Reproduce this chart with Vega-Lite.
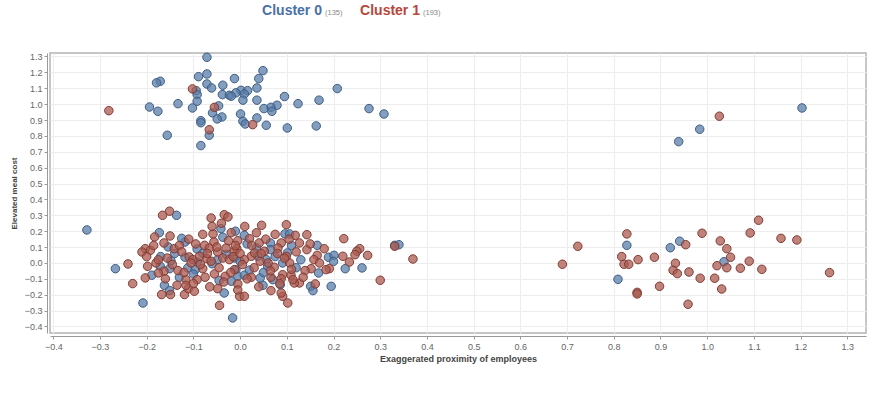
{
  "$schema": "https://vega.github.io/schema/vega-lite/v6.json",
  "padding": {"left": 9, "top": 0, "right": 0, "bottom": 0},
  "background": "white",
  "config": {"font": "Liberation Sans", "concat": {"spacing": 28}},
  "data": {"values": [
    {"proximity":-0.071,"cost":1.295,"cluster":"Cluster 0"},
    {"proximity":0.049,"cost":1.211,"cluster":"Cluster 0"},
    {"proximity":-0.071,"cost":1.19,"cluster":"Cluster 0"},
    {"proximity":-0.089,"cost":1.173,"cluster":"Cluster 0"},
    {"proximity":-0.012,"cost":1.161,"cluster":"Cluster 0"},
    {"proximity":0.04,"cost":1.161,"cluster":"Cluster 0"},
    {"proximity":-0.171,"cost":1.144,"cluster":"Cluster 0"},
    {"proximity":-0.179,"cost":1.134,"cluster":"Cluster 0"},
    {"proximity":-0.071,"cost":1.127,"cluster":"Cluster 0"},
    {"proximity":-0.061,"cost":1.102,"cluster":"Cluster 0"},
    {"proximity":-0.037,"cost":1.119,"cluster":"Cluster 0"},
    {"proximity":0.036,"cost":1.102,"cluster":"Cluster 0"},
    {"proximity":0.208,"cost":1.098,"cluster":"Cluster 0"},
    {"proximity":-0.094,"cost":1.085,"cluster":"Cluster 0"},
    {"proximity":0.002,"cost":1.087,"cluster":"Cluster 0"},
    {"proximity":0.016,"cost":1.085,"cluster":"Cluster 0"},
    {"proximity":-0.038,"cost":1.06,"cluster":"Cluster 0"},
    {"proximity":-0.023,"cost":1.056,"cluster":"Cluster 0"},
    {"proximity":-0.009,"cost":1.071,"cluster":"Cluster 0"},
    {"proximity":0.009,"cost":1.064,"cluster":"Cluster 0"},
    {"proximity":-0.019,"cost":1.05,"cluster":"Cluster 0"},
    {"proximity":-0.092,"cost":1.06,"cluster":"Cluster 0"},
    {"proximity":0.095,"cost":1.048,"cluster":"Cluster 0"},
    {"proximity":0.169,"cost":1.025,"cluster":"Cluster 0"},
    {"proximity":0.036,"cost":1.025,"cluster":"Cluster 0"},
    {"proximity":0.006,"cost":1.025,"cluster":"Cluster 0"},
    {"proximity":-0.092,"cost":1.018,"cluster":"Cluster 0"},
    {"proximity":0.124,"cost":1.003,"cluster":"Cluster 0"},
    {"proximity":-0.133,"cost":1.003,"cluster":"Cluster 0"},
    {"proximity":-0.194,"cost":0.982,"cluster":"Cluster 0"},
    {"proximity":-0.102,"cost":0.976,"cluster":"Cluster 0"},
    {"proximity":-0.046,"cost":0.989,"cluster":"Cluster 0"},
    {"proximity":0.079,"cost":0.993,"cluster":"Cluster 0"},
    {"proximity":0.066,"cost":0.98,"cluster":"Cluster 0"},
    {"proximity":0.051,"cost":0.972,"cluster":"Cluster 0"},
    {"proximity":0.068,"cost":0.955,"cluster":"Cluster 0"},
    {"proximity":-0.176,"cost":0.955,"cluster":"Cluster 0"},
    {"proximity":0.276,"cost":0.972,"cluster":"Cluster 0"},
    {"proximity":0.308,"cost":0.938,"cluster":"Cluster 0"},
    {"proximity":-0.059,"cost":0.945,"cluster":"Cluster 0"},
    {"proximity":0.001,"cost":0.938,"cluster":"Cluster 0"},
    {"proximity":-0.039,"cost":0.919,"cluster":"Cluster 0"},
    {"proximity":-0.049,"cost":0.907,"cluster":"Cluster 0"},
    {"proximity":0.036,"cost":0.913,"cluster":"Cluster 0"},
    {"proximity":0.006,"cost":0.892,"cluster":"Cluster 0"},
    {"proximity":0.056,"cost":0.867,"cluster":"Cluster 0"},
    {"proximity":0.101,"cost":0.85,"cluster":"Cluster 0"},
    {"proximity":0.163,"cost":0.863,"cluster":"Cluster 0"},
    {"proximity":0.011,"cost":0.875,"cluster":"Cluster 0"},
    {"proximity":-0.084,"cost":0.896,"cluster":"Cluster 0"},
    {"proximity":-0.084,"cost":0.883,"cluster":"Cluster 0"},
    {"proximity":-0.066,"cost":0.804,"cluster":"Cluster 0"},
    {"proximity":-0.156,"cost":0.804,"cluster":"Cluster 0"},
    {"proximity":-0.084,"cost":0.739,"cluster":"Cluster 0"},
    {"proximity":1.203,"cost":0.976,"cluster":"Cluster 0"},
    {"proximity":0.984,"cost":0.842,"cluster":"Cluster 0"},
    {"proximity":0.939,"cost":0.764,"cluster":"Cluster 0"},
    {"proximity":0.941,"cost":0.137,"cluster":"Cluster 0"},
    {"proximity":0.828,"cost":0.111,"cluster":"Cluster 0"},
    {"proximity":0.921,"cost":0.096,"cluster":"Cluster 0"},
    {"proximity":1.036,"cost":0.008,"cluster":"Cluster 0"},
    {"proximity":0.809,"cost":-0.103,"cluster":"Cluster 0"},
    {"proximity":-0.328,"cost":0.208,"cluster":"Cluster 0"},
    {"proximity":-0.136,"cost":0.3,"cluster":"Cluster 0"},
    {"proximity":-0.173,"cost":0.191,"cluster":"Cluster 0"},
    {"proximity":-0.041,"cost":0.216,"cluster":"Cluster 0"},
    {"proximity":-0.037,"cost":0.162,"cluster":"Cluster 0"},
    {"proximity":-0.118,"cost":0.132,"cluster":"Cluster 0"},
    {"proximity":-0.154,"cost":0.101,"cluster":"Cluster 0"},
    {"proximity":-0.092,"cost":0.088,"cluster":"Cluster 0"},
    {"proximity":-0.118,"cost":0.036,"cluster":"Cluster 0"},
    {"proximity":-0.092,"cost":0.006,"cluster":"Cluster 0"},
    {"proximity":-0.048,"cost":0.021,"cluster":"Cluster 0"},
    {"proximity":-0.012,"cost":0.031,"cluster":"Cluster 0"},
    {"proximity":-0.267,"cost":-0.036,"cluster":"Cluster 0"},
    {"proximity":-0.171,"cost":-0.021,"cluster":"Cluster 0"},
    {"proximity":-0.148,"cost":0.014,"cluster":"Cluster 0"},
    {"proximity":-0.151,"cost":-0.036,"cluster":"Cluster 0"},
    {"proximity":-0.189,"cost":-0.077,"cluster":"Cluster 0"},
    {"proximity":-0.112,"cost":-0.031,"cluster":"Cluster 0"},
    {"proximity":-0.096,"cost":-0.042,"cluster":"Cluster 0"},
    {"proximity":-0.009,"cost":-0.042,"cluster":"Cluster 0"},
    {"proximity":-0.162,"cost":-0.141,"cluster":"Cluster 0"},
    {"proximity":-0.151,"cost":-0.174,"cluster":"Cluster 0"},
    {"proximity":-0.034,"cost":-0.189,"cluster":"Cluster 0"},
    {"proximity":-0.208,"cost":-0.252,"cluster":"Cluster 0"},
    {"proximity":-0.016,"cost":-0.346,"cluster":"Cluster 0"},
    {"proximity":0.096,"cost":0.183,"cluster":"Cluster 0"},
    {"proximity":0.106,"cost":0.183,"cluster":"Cluster 0"},
    {"proximity":0.009,"cost":0.174,"cluster":"Cluster 0"},
    {"proximity":0.065,"cost":0.126,"cluster":"Cluster 0"},
    {"proximity":0.165,"cost":0.111,"cluster":"Cluster 0"},
    {"proximity":0.331,"cost":0.111,"cluster":"Cluster 0"},
    {"proximity":0.34,"cost":0.115,"cluster":"Cluster 0"},
    {"proximity":0.189,"cost":0.036,"cluster":"Cluster 0"},
    {"proximity":0.201,"cost":0.048,"cluster":"Cluster 0"},
    {"proximity":0.225,"cost":-0.036,"cluster":"Cluster 0"},
    {"proximity":0.261,"cost":-0.031,"cluster":"Cluster 0"},
    {"proximity":0.168,"cost":-0.063,"cluster":"Cluster 0"},
    {"proximity":0.195,"cost":-0.147,"cluster":"Cluster 0"},
    {"proximity":0.151,"cost":-0.147,"cluster":"Cluster 0"},
    {"proximity":0.156,"cost":-0.174,"cluster":"Cluster 0"},
    {"proximity":0.07,"cost":-0.105,"cluster":"Cluster 0"},
    {"proximity":0.049,"cost":-0.141,"cluster":"Cluster 0"},
    {"proximity":0.038,"cost":0.042,"cluster":"Cluster 0"},
    {"proximity":0.056,"cost":0.021,"cluster":"Cluster 0"},
    {"proximity":0.059,"cost":-0.021,"cluster":"Cluster 0"},
    {"proximity":0.091,"cost":0.0,"cluster":"Cluster 0"},
    {"proximity":0.101,"cost":0.063,"cluster":"Cluster 0"},
    {"proximity":0.065,"cost":0.084,"cluster":"Cluster 0"},
    {"proximity":-0.005,"cost":-0.084,"cluster":"Cluster 0"},
    {"proximity":0.009,"cost":-0.077,"cluster":"Cluster 0"},
    {"proximity":0.043,"cost":-0.094,"cluster":"Cluster 0"},
    {"proximity":0.086,"cost":-0.137,"cluster":"Cluster 0"},
    {"proximity":-0.019,"cost":-0.115,"cluster":"Cluster 0"},
    {"proximity":-0.125,"cost":0.155,"cluster":"Cluster 0"},
    {"proximity":-0.08,"cost":0.06,"cluster":"Cluster 0"},
    {"proximity":-0.06,"cost":-0.005,"cluster":"Cluster 0"},
    {"proximity":-0.03,"cost":0.055,"cluster":"Cluster 0"},
    {"proximity":0.0,"cost":0.01,"cluster":"Cluster 0"},
    {"proximity":0.02,"cost":-0.045,"cluster":"Cluster 0"},
    {"proximity":0.035,"cost":0.095,"cluster":"Cluster 0"},
    {"proximity":0.075,"cost":0.04,"cluster":"Cluster 0"},
    {"proximity":0.11,"cost":0.11,"cluster":"Cluster 0"},
    {"proximity":0.13,"cost":0.02,"cluster":"Cluster 0"},
    {"proximity":-0.14,"cost":0.06,"cluster":"Cluster 0"},
    {"proximity":-0.1,"cost":-0.07,"cluster":"Cluster 0"},
    {"proximity":-0.045,"cost":-0.11,"cluster":"Cluster 0"},
    {"proximity":0.015,"cost":0.12,"cluster":"Cluster 0"},
    {"proximity":0.05,"cost":-0.06,"cluster":"Cluster 0"},
    {"proximity":0.12,"cost":-0.03,"cluster":"Cluster 0"},
    {"proximity":-0.17,"cost":0.04,"cluster":"Cluster 0"},
    {"proximity":0.2,"cost":0.01,"cluster":"Cluster 0"},
    {"proximity":-0.01,"cost":0.2,"cluster":"Cluster 0"},
    {"proximity":-0.13,"cost":-0.09,"cluster":"Cluster 0"},
    {"proximity":-0.102,"cost":1.096,"cluster":"Cluster 1"},
    {"proximity":-0.055,"cost":0.98,"cluster":"Cluster 1"},
    {"proximity":-0.281,"cost":0.959,"cluster":"Cluster 1"},
    {"proximity":0.027,"cost":0.871,"cluster":"Cluster 1"},
    {"proximity":-0.066,"cost":0.839,"cluster":"Cluster 1"},
    {"proximity":1.026,"cost":0.924,"cluster":"Cluster 1"},
    {"proximity":1.11,"cost":0.269,"cluster":"Cluster 1"},
    {"proximity":0.828,"cost":0.183,"cluster":"Cluster 1"},
    {"proximity":0.989,"cost":0.187,"cluster":"Cluster 1"},
    {"proximity":1.092,"cost":0.189,"cluster":"Cluster 1"},
    {"proximity":1.158,"cost":0.155,"cluster":"Cluster 1"},
    {"proximity":1.192,"cost":0.145,"cluster":"Cluster 1"},
    {"proximity":0.954,"cost":0.115,"cluster":"Cluster 1"},
    {"proximity":1.028,"cost":0.139,"cluster":"Cluster 1"},
    {"proximity":0.723,"cost":0.105,"cluster":"Cluster 1"},
    {"proximity":1.042,"cost":0.09,"cluster":"Cluster 1"},
    {"proximity":0.817,"cost":0.04,"cluster":"Cluster 1"},
    {"proximity":1.05,"cost":0.036,"cluster":"Cluster 1"},
    {"proximity":0.852,"cost":0.021,"cluster":"Cluster 1"},
    {"proximity":0.887,"cost":0.036,"cluster":"Cluster 1"},
    {"proximity":1.09,"cost":0.011,"cluster":"Cluster 1"},
    {"proximity":0.69,"cost":-0.008,"cluster":"Cluster 1"},
    {"proximity":0.822,"cost":-0.008,"cluster":"Cluster 1"},
    {"proximity":0.832,"cost":-0.008,"cluster":"Cluster 1"},
    {"proximity":0.932,"cost":-0.002,"cluster":"Cluster 1"},
    {"proximity":1.021,"cost":-0.017,"cluster":"Cluster 1"},
    {"proximity":1.042,"cost":-0.03,"cluster":"Cluster 1"},
    {"proximity":1.071,"cost":-0.033,"cluster":"Cluster 1"},
    {"proximity":1.117,"cost":-0.04,"cluster":"Cluster 1"},
    {"proximity":0.927,"cost":-0.046,"cluster":"Cluster 1"},
    {"proximity":0.936,"cost":-0.067,"cluster":"Cluster 1"},
    {"proximity":0.961,"cost":-0.057,"cluster":"Cluster 1"},
    {"proximity":1.262,"cost":-0.061,"cluster":"Cluster 1"},
    {"proximity":0.985,"cost":-0.096,"cluster":"Cluster 1"},
    {"proximity":1.016,"cost":-0.096,"cluster":"Cluster 1"},
    {"proximity":0.898,"cost":-0.147,"cluster":"Cluster 1"},
    {"proximity":1.031,"cost":-0.164,"cluster":"Cluster 1"},
    {"proximity":0.85,"cost":-0.185,"cluster":"Cluster 1"},
    {"proximity":0.85,"cost":-0.195,"cluster":"Cluster 1"},
    {"proximity":0.959,"cost":-0.26,"cluster":"Cluster 1"},
    {"proximity":-0.166,"cost":0.3,"cluster":"Cluster 1"},
    {"proximity":-0.151,"cost":0.326,"cluster":"Cluster 1"},
    {"proximity":-0.062,"cost":0.283,"cluster":"Cluster 1"},
    {"proximity":-0.034,"cost":0.304,"cluster":"Cluster 1"},
    {"proximity":-0.026,"cost":0.29,"cluster":"Cluster 1"},
    {"proximity":-0.183,"cost":0.164,"cluster":"Cluster 1"},
    {"proximity":-0.019,"cost":0.191,"cluster":"Cluster 1"},
    {"proximity":-0.058,"cost":0.183,"cluster":"Cluster 1"},
    {"proximity":-0.163,"cost":0.126,"cluster":"Cluster 1"},
    {"proximity":-0.141,"cost":0.09,"cluster":"Cluster 1"},
    {"proximity":-0.203,"cost":0.09,"cluster":"Cluster 1"},
    {"proximity":-0.192,"cost":0.08,"cluster":"Cluster 1"},
    {"proximity":-0.21,"cost":0.069,"cluster":"Cluster 1"},
    {"proximity":-0.076,"cost":0.111,"cluster":"Cluster 1"},
    {"proximity":-0.066,"cost":0.094,"cluster":"Cluster 1"},
    {"proximity":-0.056,"cost":0.132,"cluster":"Cluster 1"},
    {"proximity":-0.048,"cost":0.069,"cluster":"Cluster 1"},
    {"proximity":-0.03,"cost":0.094,"cluster":"Cluster 1"},
    {"proximity":-0.005,"cost":0.14,"cluster":"Cluster 1"},
    {"proximity":-0.007,"cost":0.09,"cluster":"Cluster 1"},
    {"proximity":-0.109,"cost":0.038,"cluster":"Cluster 1"},
    {"proximity":-0.101,"cost":0.021,"cluster":"Cluster 1"},
    {"proximity":-0.087,"cost":0.042,"cluster":"Cluster 1"},
    {"proximity":-0.071,"cost":0.027,"cluster":"Cluster 1"},
    {"proximity":-0.062,"cost":0.011,"cluster":"Cluster 1"},
    {"proximity":-0.037,"cost":0.031,"cluster":"Cluster 1"},
    {"proximity":-0.023,"cost":0.021,"cluster":"Cluster 1"},
    {"proximity":-0.24,"cost":-0.006,"cluster":"Cluster 1"},
    {"proximity":-0.198,"cost":-0.021,"cluster":"Cluster 1"},
    {"proximity":-0.18,"cost":0.0,"cluster":"Cluster 1"},
    {"proximity":-0.156,"cost":0.031,"cluster":"Cluster 1"},
    {"proximity":-0.163,"cost":-0.052,"cluster":"Cluster 1"},
    {"proximity":-0.175,"cost":-0.063,"cluster":"Cluster 1"},
    {"proximity":-0.203,"cost":-0.094,"cluster":"Cluster 1"},
    {"proximity":-0.133,"cost":-0.048,"cluster":"Cluster 1"},
    {"proximity":-0.08,"cost":-0.036,"cluster":"Cluster 1"},
    {"proximity":-0.055,"cost":-0.069,"cluster":"Cluster 1"},
    {"proximity":-0.032,"cost":-0.084,"cluster":"Cluster 1"},
    {"proximity":-0.116,"cost":-0.105,"cluster":"Cluster 1"},
    {"proximity":-0.092,"cost":-0.105,"cluster":"Cluster 1"},
    {"proximity":-0.23,"cost":-0.13,"cluster":"Cluster 1"},
    {"proximity":-0.168,"cost":-0.199,"cluster":"Cluster 1"},
    {"proximity":-0.149,"cost":-0.199,"cluster":"Cluster 1"},
    {"proximity":-0.119,"cost":-0.199,"cluster":"Cluster 1"},
    {"proximity":-0.111,"cost":-0.162,"cluster":"Cluster 1"},
    {"proximity":-0.098,"cost":-0.178,"cluster":"Cluster 1"},
    {"proximity":-0.116,"cost":-0.141,"cluster":"Cluster 1"},
    {"proximity":-0.048,"cost":-0.162,"cluster":"Cluster 1"},
    {"proximity":-0.044,"cost":-0.267,"cluster":"Cluster 1"},
    {"proximity":0.046,"cost":0.237,"cluster":"Cluster 1"},
    {"proximity":0.099,"cost":0.241,"cluster":"Cluster 1"},
    {"proximity":0.118,"cost":0.174,"cluster":"Cluster 1"},
    {"proximity":0.143,"cost":0.178,"cluster":"Cluster 1"},
    {"proximity":0.02,"cost":0.153,"cluster":"Cluster 1"},
    {"proximity":0.041,"cost":0.126,"cluster":"Cluster 1"},
    {"proximity":0.088,"cost":0.126,"cluster":"Cluster 1"},
    {"proximity":0.127,"cost":0.126,"cluster":"Cluster 1"},
    {"proximity":0.222,"cost":0.153,"cluster":"Cluster 1"},
    {"proximity":0.331,"cost":0.105,"cluster":"Cluster 1"},
    {"proximity":0.37,"cost":0.025,"cluster":"Cluster 1"},
    {"proximity":0.256,"cost":0.09,"cluster":"Cluster 1"},
    {"proximity":0.25,"cost":0.074,"cluster":"Cluster 1"},
    {"proximity":0.273,"cost":0.048,"cluster":"Cluster 1"},
    {"proximity":0.246,"cost":0.052,"cluster":"Cluster 1"},
    {"proximity":0.22,"cost":0.042,"cluster":"Cluster 1"},
    {"proximity":0.143,"cost":0.084,"cluster":"Cluster 1"},
    {"proximity":0.165,"cost":0.048,"cluster":"Cluster 1"},
    {"proximity":0.158,"cost":0.021,"cluster":"Cluster 1"},
    {"proximity":0.234,"cost":0.006,"cluster":"Cluster 1"},
    {"proximity":0.191,"cost":-0.036,"cluster":"Cluster 1"},
    {"proximity":0.184,"cost":-0.042,"cluster":"Cluster 1"},
    {"proximity":0.152,"cost":-0.036,"cluster":"Cluster 1"},
    {"proximity":0.139,"cost":-0.048,"cluster":"Cluster 1"},
    {"proximity":0.3,"cost":-0.109,"cluster":"Cluster 1"},
    {"proximity":0.161,"cost":-0.132,"cluster":"Cluster 1"},
    {"proximity":0.127,"cost":-0.126,"cluster":"Cluster 1"},
    {"proximity":0.116,"cost":-0.126,"cluster":"Cluster 1"},
    {"proximity":0.109,"cost":-0.077,"cluster":"Cluster 1"},
    {"proximity":0.091,"cost":-0.074,"cluster":"Cluster 1"},
    {"proximity":0.066,"cost":-0.174,"cluster":"Cluster 1"},
    {"proximity":0.091,"cost":-0.21,"cluster":"Cluster 1"},
    {"proximity":0.102,"cost":-0.252,"cluster":"Cluster 1"},
    {"proximity":-0.001,"cost":-0.21,"cluster":"Cluster 1"},
    {"proximity":0.009,"cost":-0.21,"cluster":"Cluster 1"},
    {"proximity":0.024,"cost":0.042,"cluster":"Cluster 1"},
    {"proximity":0.009,"cost":0.021,"cluster":"Cluster 1"},
    {"proximity":0.043,"cost":0.011,"cluster":"Cluster 1"},
    {"proximity":0.073,"cost":-0.027,"cluster":"Cluster 1"},
    {"proximity":0.106,"cost":0.0,"cluster":"Cluster 1"},
    {"proximity":0.099,"cost":0.042,"cluster":"Cluster 1"},
    {"proximity":0.052,"cost":0.074,"cluster":"Cluster 1"},
    {"proximity":0.081,"cost":0.094,"cluster":"Cluster 1"},
    {"proximity":0.031,"cost":0.063,"cluster":"Cluster 1"},
    {"proximity":-0.012,"cost":0.074,"cluster":"Cluster 1"},
    {"proximity":-0.012,"cost":-0.042,"cluster":"Cluster 1"},
    {"proximity":0.024,"cost":-0.09,"cluster":"Cluster 1"},
    {"proximity":0.088,"cost":-0.099,"cluster":"Cluster 1"},
    {"proximity":0.113,"cost":-0.105,"cluster":"Cluster 1"},
    {"proximity":-0.005,"cost":-0.132,"cluster":"Cluster 1"},
    {"proximity":0.066,"cost":-0.09,"cluster":"Cluster 1"},
    {"proximity":0.088,"cost":-0.189,"cluster":"Cluster 1"},
    {"proximity":-0.2,"cost":0.04,"cluster":"Cluster 1"},
    {"proximity":-0.185,"cost":0.11,"cluster":"Cluster 1"},
    {"proximity":-0.175,"cost":0.02,"cluster":"Cluster 1"},
    {"proximity":-0.16,"cost":-0.1,"cluster":"Cluster 1"},
    {"proximity":-0.15,"cost":0.17,"cluster":"Cluster 1"},
    {"proximity":-0.145,"cost":-0.01,"cluster":"Cluster 1"},
    {"proximity":-0.135,"cost":-0.14,"cluster":"Cluster 1"},
    {"proximity":-0.13,"cost":0.11,"cluster":"Cluster 1"},
    {"proximity":-0.125,"cost":0.07,"cluster":"Cluster 1"},
    {"proximity":-0.12,"cost":-0.06,"cluster":"Cluster 1"},
    {"proximity":-0.11,"cost":0.15,"cluster":"Cluster 1"},
    {"proximity":-0.105,"cost":0.0,"cluster":"Cluster 1"},
    {"proximity":-0.1,"cost":-0.13,"cluster":"Cluster 1"},
    {"proximity":-0.095,"cost":0.12,"cluster":"Cluster 1"},
    {"proximity":-0.085,"cost":-0.01,"cluster":"Cluster 1"},
    {"proximity":-0.08,"cost":0.18,"cluster":"Cluster 1"},
    {"proximity":-0.075,"cost":-0.09,"cluster":"Cluster 1"},
    {"proximity":-0.07,"cost":0.06,"cluster":"Cluster 1"},
    {"proximity":-0.065,"cost":-0.15,"cluster":"Cluster 1"},
    {"proximity":-0.06,"cost":0.23,"cluster":"Cluster 1"},
    {"proximity":-0.05,"cost":0.1,"cluster":"Cluster 1"},
    {"proximity":-0.045,"cost":-0.03,"cluster":"Cluster 1"},
    {"proximity":-0.04,"cost":0.25,"cluster":"Cluster 1"},
    {"proximity":-0.035,"cost":-0.12,"cluster":"Cluster 1"},
    {"proximity":-0.025,"cost":0.14,"cluster":"Cluster 1"},
    {"proximity":-0.02,"cost":-0.06,"cluster":"Cluster 1"},
    {"proximity":-0.015,"cost":0.04,"cluster":"Cluster 1"},
    {"proximity":-0.01,"cost":0.11,"cluster":"Cluster 1"},
    {"proximity":-0.005,"cost":-0.17,"cluster":"Cluster 1"},
    {"proximity":0.0,"cost":0.06,"cluster":"Cluster 1"},
    {"proximity":0.005,"cost":-0.01,"cluster":"Cluster 1"},
    {"proximity":0.01,"cost":0.23,"cluster":"Cluster 1"},
    {"proximity":0.015,"cost":-0.1,"cluster":"Cluster 1"},
    {"proximity":0.025,"cost":0.11,"cluster":"Cluster 1"},
    {"proximity":0.03,"cost":-0.03,"cluster":"Cluster 1"},
    {"proximity":0.035,"cost":0.19,"cluster":"Cluster 1"},
    {"proximity":0.04,"cost":-0.15,"cluster":"Cluster 1"},
    {"proximity":0.045,"cost":0.06,"cluster":"Cluster 1"},
    {"proximity":0.055,"cost":0.15,"cluster":"Cluster 1"},
    {"proximity":0.06,"cost":0.0,"cluster":"Cluster 1"},
    {"proximity":0.065,"cost":-0.05,"cluster":"Cluster 1"},
    {"proximity":0.075,"cost":0.18,"cluster":"Cluster 1"},
    {"proximity":0.08,"cost":0.06,"cluster":"Cluster 1"},
    {"proximity":0.085,"cost":-0.13,"cluster":"Cluster 1"},
    {"proximity":0.095,"cost":0.03,"cluster":"Cluster 1"},
    {"proximity":0.105,"cost":0.15,"cluster":"Cluster 1"},
    {"proximity":0.11,"cost":-0.04,"cluster":"Cluster 1"},
    {"proximity":0.12,"cost":0.07,"cluster":"Cluster 1"},
    {"proximity":0.135,"cost":-0.09,"cluster":"Cluster 1"},
    {"proximity":0.15,"cost":0.12,"cluster":"Cluster 1"},
    {"proximity":0.17,"cost":0.0,"cluster":"Cluster 1"},
    {"proximity":0.18,"cost":0.09,"cluster":"Cluster 1"}
  ]},
  "vconcat": [
    {
      "width": 816,
      "height": 22,
      "view": {"stroke": null},
      "transform": [
        {"aggregate": [{"op": "count", "as": "n"}], "groupby": ["cluster"]},
        {"calculate": "'(' + datum.n + ')'", "as": "countLabel"}
      ],
      "encoding": {
        "x": {"field": "cluster", "type": "nominal", "scale": {"type": "point", "domain": ["Cluster 0", "Cluster 1"], "range": [273, 371], "padding": 0}, "axis": null}
      },
      "layer": [
        {
          "mark": {"type": "text", "align": "right", "baseline": "alphabetic", "dx": -1, "dy": 4, "fontSize": 14, "fontWeight": "bold"},
          "encoding": {
            "text": {"field": "cluster"},
            "color": {"field": "cluster", "type": "nominal", "scale": {"domain": ["Cluster 0", "Cluster 1"], "range": ["#4a70a8", "#b8453b"]}, "legend": null}
          }
        },
        {
          "mark": {"type": "text", "align": "left", "baseline": "alphabetic", "dx": 2, "dy": 4, "fontSize": 7.5, "color": "#888888"},
          "encoding": {"text": {"field": "countLabel"}}
        }
      ]
    },
    {
      "width": 816,
      "height": 280,
      "view": {"stroke": "#b4b4b4", "strokeWidth": 1.5},
      "mark": {"type": "circle", "size": 72, "opacity": 1, "fillOpacity": 0.75, "strokeWidth": 1},
      "encoding": {
        "x": {
          "field": "proximity", "type": "quantitative",
          "scale": {"domain": [-0.407, 1.34], "nice": false, "zero": false},
          "axis": {
            "values": [-0.4, -0.3, -0.2, -0.1, 0, 0.1, 0.2, 0.3, 0.4, 0.5, 0.6, 0.7, 0.8, 0.9, 1.0, 1.1, 1.2, 1.3],
            "format": ".1f", "offset": 3, "tickSize": 3, "tickColor": "#999999", "domainColor": "#999999",
            "labelColor": "#666666", "labelFontSize": 9, "labelPadding": 3, "gridColor": "#ededed",
            "title": "Exaggerated proximity of employees", "titleFontSize": 9, "titleFontWeight": "bold",
            "titleColor": "#444444", "titlePadding": 3
          }
        },
        "y": {
          "field": "cost", "type": "quantitative",
          "scale": {"domain": [-0.441, 1.322], "nice": false, "zero": false},
          "axis": {
            "values": [-0.4, -0.3, -0.2, -0.1, 0, 0.1, 0.2, 0.3, 0.4, 0.5, 0.6, 0.7, 0.8, 0.9, 1.0, 1.1, 1.2, 1.3],
            "format": ".1f", "offset": 3, "tickSize": 3, "tickColor": "#999999", "domainColor": "#999999",
            "labelColor": "#666666", "labelFontSize": 9, "labelPadding": 2, "gridColor": "#ededed",
            "title": "Elevated meal cost", "titleFontSize": 8, "titleFontWeight": "bold",
            "titleColor": "#444444", "titlePadding": 6
          }
        },
        "fill": {"field": "cluster", "type": "nominal", "scale": {"domain": ["Cluster 0", "Cluster 1"], "range": ["#5a7ea8", "#ab5b50"]}, "legend": null},
        "stroke": {"field": "cluster", "type": "nominal", "scale": {"domain": ["Cluster 0", "Cluster 1"], "range": ["#3d5d85", "#823b33"]}, "legend": null}
      }
    }
  ]
}
